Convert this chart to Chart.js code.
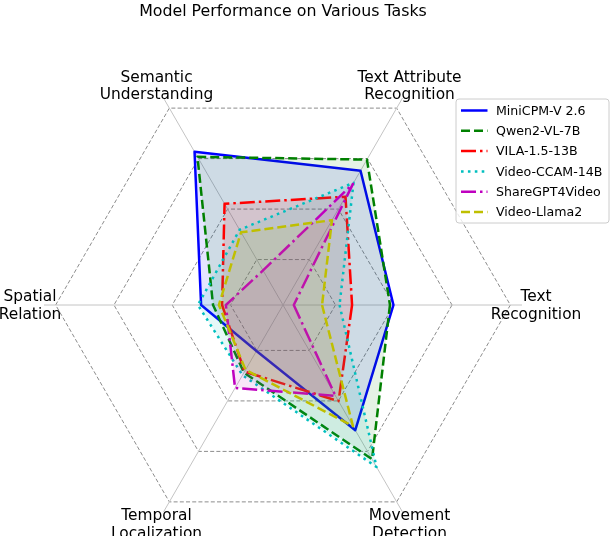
<!DOCTYPE html>
<html>
<head>
<meta charset="utf-8">
<script src="https://cdn.jsdelivr.net/npm/chart.js@4.4.1/dist/chart.umd.min.js"></script>
<style>
html,body{margin:0;padding:0;background:#fff;overflow:hidden;}
canvas{display:block;}
</style>
</head>
<body>
<canvas id="c" width="612" height="560"></canvas>
<script>
// ---- data ----
const categories = [
  ['Text', 'Recognition'],
  ['Movement', 'Detection'],
  ['Temporal', 'Localization'],
  ['Spatial', 'Relation'],
  ['Semantic', 'Understanding'],
  ['Text Attribute', 'Recognition']
];
const seriesNames = ['MiniCPM-V 2.6', 'Qwen2-VL-7B', 'VILA-1.5-13B', 'Video-CCAM-14B', 'ShareGPT4Video', 'Video-Llama2'];
const miniCPM   = [39.9, 51.6, 20.2, 30.1, 62.7, 55.2];
const qwen2     = [38.7, 63.1, 28.8, 26.0, 60.7, 59.6];
const vila      = [25.7, 40.1, 28.4, 22.9, 42.1, 44.9];
const videoCCAM = [21.4, 66.2, 29.8, 31.2, 31.8, 50.4];
const shareGPT  = [5.7, 38.0, 34.9, 21.6, 15.7, 50.0];
const videoLlama= [15.4, 50.0, 27.7, 24.0, 30.8, 35.6];
const seriesValues = [miniCPM, qwen2, vila, videoCCAM, shareGPT, videoLlama];
const gridTicks = [20, 40, 60, 80];
const scaleMin = 2, scaleMax = 84;

// ---- styles ----
const lineColors = ['rgb(0,0,255)', 'rgb(0,128,0)', 'rgb(255,0,0)', 'rgb(0,191,191)', 'rgb(191,0,191)', 'rgb(191,191,0)'];
const fillColors = ['rgba(0,0,255,0.1)', 'rgba(0,128,0,0.1)', 'rgba(255,0,0,0.1)', 'rgba(0,191,191,0.1)', 'rgba(191,0,191,0.1)', 'rgba(191,191,0,0.1)'];
const DASHED = [9, 4], DASHDOT = [15, 4, 2.5, 4], DOTTED = [2.6, 4.3];
const lineDashes = [[], DASHED, DASHDOT, DOTTED, DASHDOT, DASHED];
const LW = 2.5;
const FONT = "'DejaVu Sans', 'Liberation Sans', sans-serif";

const datasets = seriesNames.map((name, i) => ({
  label: name,
  data: seriesValues[i],
  borderColor: lineColors[i],
  backgroundColor: fillColors[i],
  borderWidth: LW,
  borderDash: lineDashes[i],
  borderCapStyle: 'butt',
  borderJoinStyle: 'round',
  fill: true,
  pointRadius: 0,
  pointHoverRadius: 0,
  tension: 0,
  order: seriesNames.length - i
}));

const overlay = {
  id: 'overlay',
  afterDraw(chart) {
    const ctx = chart.ctx;
    const r = chart.scales.r;
    ctx.save();
    // point labels
    ctx.fillStyle = '#000';
    ctx.font = '15.4px ' + FONT;
    ctx.textAlign = 'center';
    ctx.textBaseline = 'alphabetic';
    categories.forEach((lines, i) => {
      const p = r.getPointPosition(i, r.drawingArea + 14);
      lines.forEach((t, k) => ctx.fillText(t, p.x, p.y - 4 + 17.5 * k));
    });
    // legend
    const bx = 456, by = 99, bw = 153, bh = 124, rad = 3;
    ctx.beginPath();
    ctx.moveTo(bx + rad, by);
    ctx.lineTo(bx + bw - rad, by);
    ctx.arcTo(bx + bw, by, bx + bw, by + rad, rad);
    ctx.lineTo(bx + bw, by + bh - rad);
    ctx.arcTo(bx + bw, by + bh, bx + bw - rad, by + bh, rad);
    ctx.lineTo(bx + rad, by + bh);
    ctx.arcTo(bx, by + bh, bx, by + bh - rad, rad);
    ctx.lineTo(bx, by + rad);
    ctx.arcTo(bx, by, bx + rad, by, rad);
    ctx.closePath();
    ctx.fillStyle = 'rgba(255,255,255,0.8)';
    ctx.fill();
    ctx.strokeStyle = '#cccccc';
    ctx.lineWidth = 1;
    ctx.stroke();
    ctx.font = '12.6px ' + FONT;
    ctx.textAlign = 'left';
    ctx.textBaseline = 'middle';
    seriesNames.forEach((name, i) => {
      const y = 110.5 + 20.3 * i;
      ctx.beginPath();
      ctx.setLineDash(lineDashes[i]);
      ctx.lineCap = 'butt';
      ctx.strokeStyle = lineColors[i];
      ctx.lineWidth = LW;
      ctx.moveTo(461, y);
      ctx.lineTo(487.5, y);
      ctx.stroke();
      ctx.setLineDash([]);
      ctx.fillStyle = '#000';
      ctx.fillText(name, 496, y + 1);
    });
    ctx.restore();
  }
};

new Chart(document.getElementById('c'), {
  type: 'radar',
  data: { labels: categories, datasets },
  options: {
    responsive: false,
    animation: false,
    layout: { padding: { left: 44, right: 90, top: 0, bottom: 14 } },
    plugins: {
      legend: { display: false },
      tooltip: { enabled: false },
      title: {
        display: true,
        text: 'Model Performance on Various Tasks',
        color: '#000',
        fullSize: false,
        font: { family: FONT, size: 15.8, weight: 'normal' },
        padding: { top: 2, bottom: 45 }
      }
    },
    scales: {
      r: {
        min: scaleMin,
        max: scaleMax,
        startAngle: 90,
        afterBuildTicks: (axis) => { axis.ticks = [scaleMin, ...gridTicks].map(v => ({ value: v })); },
        ticks: { display: false },
        pointLabels: { display: false },
        grid: { color: '#8c8c8c', lineWidth: 1 },
        border: { dash: [4, 2.2] },
        angleLines: { color: '#c4c4c4', lineWidth: 1 }
      }
    }
  },
  plugins: [overlay]
});
</script>
</body>
</html>
